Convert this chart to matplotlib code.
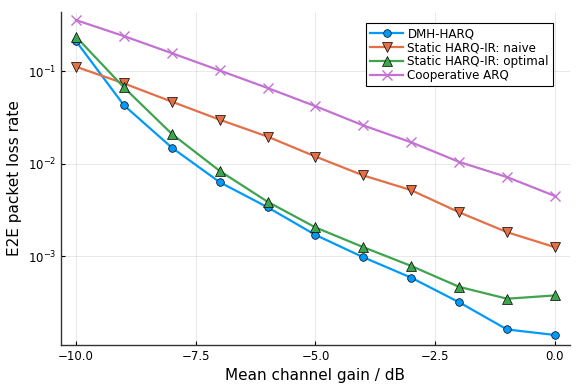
import matplotlib
matplotlib.use("Agg")
import matplotlib.pyplot as plt
import numpy as np
from matplotlib.ticker import FixedLocator, NullLocator, FixedFormatter

gain_db = [-10, -9, -8, -7, -6, -5, -4, -3, -2, -1, 0]
dmh_harq = [0.212, 0.043, 0.0150, 0.00635, 0.0034, 0.00171, 0.00098, 0.00059, 0.00032, 0.000163, 0.000142]
static_naive = [0.112, 0.074, 0.047, 0.030, 0.0197, 0.012, 0.0075, 0.0052, 0.0030, 0.00183, 0.00126]
static_optimal = [0.236, 0.067, 0.0211, 0.0084, 0.0039, 0.00206, 0.00126, 0.00079, 0.00047, 0.00035, 0.00038]
coop_arq = [0.357, 0.24, 0.157, 0.102, 0.066, 0.042, 0.026, 0.0171, 0.0105, 0.0072, 0.0045]

labels = ["DMH-HARQ", "Static HARQ-IR: naive", "Static HARQ-IR: optimal", "Cooperative ARQ"]
colors = ["#009AFA", "#E36F47", "#3EA44E", "#C371D2"]
xticks = [-10.0, -7.5, -5.0, -2.5, 0.0]
xtick_labels = ["\u221210.0", "\u22127.5", "\u22125.0", "\u22122.5", "0.0"]
yticks = [1e-3, 1e-2, 1e-1]

fig = plt.figure(figsize=(5.81, 3.88), dpi=100)
ax = fig.add_axes([0.105, 0.111, 0.876, 0.858])

ax.plot(gain_db, dmh_harq, color=colors[0], lw=1.6, marker='o', ms=5.5,
        mfc=colors[0], mec='black', mew=0.5, label=labels[0])
ax.plot(gain_db, static_naive, color=colors[1], lw=1.6, marker='v', ms=6.5,
        mfc=colors[1], mec='black', mew=0.5, label=labels[1])
ax.plot(gain_db, static_optimal, color=colors[2], lw=1.6, marker='^', ms=6.5,
        mfc=colors[2], mec='black', mew=0.5, label=labels[2])
ax.plot(gain_db, coop_arq, color=colors[3], lw=1.6, marker='x', ms=6.5,
        mec=colors[3], mew=1.0, label=labels[3])

ax.set_yscale('log')
ax.set_xlim(-10.313, 0.313)
ax.set_ylim(10**-3.955, 10**-0.36)
ax.xaxis.set_major_locator(FixedLocator(xticks))
ax.xaxis.set_major_formatter(FixedFormatter(xtick_labels))
ax.yaxis.set_major_locator(FixedLocator(yticks))
ax.yaxis.set_minor_locator(NullLocator())
ax.xaxis.set_minor_locator(NullLocator())

for s in ['top', 'right']:
    ax.spines[s].set_visible(False)
for s in ['left', 'bottom']:
    ax.spines[s].set_linewidth(1.0)
    ax.spines[s].set_color('#333333')

ax.grid(True, color='black', alpha=0.1, lw=0.6)
ax.tick_params(direction='in', length=3, width=0.8, labelsize=8.5, colors='black')

ax.set_xlabel("Mean channel gain / dB", fontsize=11)
ax.set_ylabel("E2E packet loss rate", fontsize=11)

leg = ax.legend(loc='upper right', bbox_to_anchor=(0.967, 0.967), fontsize=8.6,
                fancybox=False, framealpha=1.0, edgecolor='black',
                borderpad=0.35, labelspacing=0.08, handlelength=2.7, handletextpad=0.4,
                borderaxespad=0.0)
leg.get_frame().set_linewidth(0.8)

fig.savefig("out.png", dpi=100)
